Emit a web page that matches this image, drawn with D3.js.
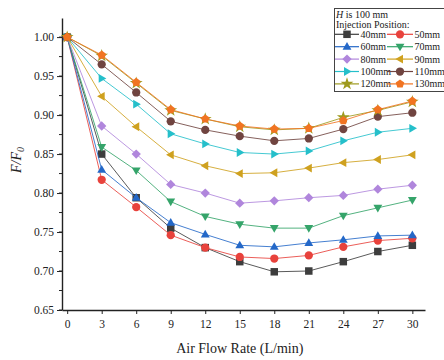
<!DOCTYPE html>
<html>
<head>
<meta charset="utf-8">
<script src="https://cdn.jsdelivr.net/npm/d3@7"></script>
<style>
body{margin:0;background:#fff;}
svg{display:block;font-family:"Liberation Serif","DejaVu Serif",serif;}
</style>
</head>
<body>
<div id="chart"></div>
<script>
var width = 444, height = 360;
var margin = {top: 18, right: 19, bottom: 50, left: 62};

// air flow rate (L/min)
var flow = [0, 3, 6, 9, 12, 15, 18, 21, 24, 27, 30];
var xTicks = [0, 3, 6, 9, 12, 15, 18, 21, 24, 27, 30];
var yTicks = [0.65, 0.70, 0.75, 0.80, 0.85, 0.90, 0.95, 1.00];

var positions = ["40mm","50mm","60mm","70mm","80mm","90mm","100mm","110mm","120mm","130mm"];
var colors = ["#3d3d3d","#e8423c","#2468c8","#35a46a","#b086dc","#cfa11f","#25bfca","#704440","#9e9a1e","#f17422"];
var shapes = ["square","circle","triUp","triDown","diamond","triLeft","triRight","circle","star","pentagon"];

var v40  = [1.000, 0.850, 0.794, 0.755, 0.730, 0.712, 0.699, 0.700, 0.712, 0.725, 0.733];
var v50  = [1.000, 0.817, 0.782, 0.746, 0.730, 0.718, 0.716, 0.720, 0.731, 0.739, 0.742];
var v60  = [1.000, 0.830, 0.794, 0.762, 0.747, 0.733, 0.731, 0.736, 0.740, 0.745, 0.746];
var v70  = [1.000, 0.859, 0.829, 0.789, 0.770, 0.760, 0.755, 0.755, 0.771, 0.781, 0.791];
var v80  = [1.000, 0.886, 0.850, 0.811, 0.800, 0.787, 0.790, 0.794, 0.797, 0.805, 0.810];
var v90  = [1.000, 0.924, 0.885, 0.849, 0.835, 0.825, 0.826, 0.832, 0.839, 0.843, 0.849];
var v100 = [1.000, 0.947, 0.914, 0.876, 0.863, 0.852, 0.850, 0.854, 0.867, 0.878, 0.883];
var v110 = [1.000, 0.965, 0.929, 0.892, 0.881, 0.873, 0.867, 0.870, 0.882, 0.898, 0.903];
var v120 = [1.000, 0.976, 0.941, 0.906, 0.895, 0.885, 0.881, 0.883, 0.897, 0.906, 0.917];
var v130 = [1.000, 0.977, 0.942, 0.907, 0.895, 0.886, 0.882, 0.883, 0.893, 0.907, 0.918];

var values = [v40, v50, v60, v70, v80, v90, v100, v110, v120, v130];

var svg = d3.select("#chart").append("svg")
  .attr("width", width).attr("height", height);

var x = d3.scaleLinear().domain([-0.45, 31.1]).range([margin.left, width - margin.right]);
var y = d3.scaleLinear().domain([0.65, 1.0245]).range([height - margin.bottom, margin.top]);

// symbol paths
function symbolPath(shape, s) {
  var p;
  if (shape == "square") {
    p = d3.symbol(d3.symbolSquare, s * s * 1.0)();
  } else if (shape == "circle") {
    p = d3.symbol(d3.symbolCircle, Math.PI * Math.pow(s * 0.55, 2))();
  } else if (shape == "diamond") {
    var r = s * 0.62;
    p = "M0," + (-r) + "L" + r + ",0L0," + r + "L" + (-r) + ",0Z";
  } else if (shape == "star") {
    p = d3.symbol(d3.symbolStar, s * s * 0.9)();
  } else if (shape == "pentagon") {
    var r2 = s * 0.6, pts = [];
    for (var k = 0; k < 5; k++) {
      var a = -Math.PI / 2 + k * 2 * Math.PI / 5;
      pts.push([r2 * Math.cos(a), r2 * Math.sin(a)]);
    }
    p = "M" + pts.map(function(q){ return q[0].toFixed(2) + "," + q[1].toFixed(2); }).join("L") + "Z";
  } else {
    var t = s * 0.62;
    var tri = [[0, -t], [t * 0.95, t * 0.65], [-t * 0.95, t * 0.65]];
    var rot = {triUp: 0, triDown: 180, triLeft: -90, triRight: 90}[shape];
    var rad = rot * Math.PI / 180;
    var rp = tri.map(function(q){
      return [q[0] * Math.cos(rad) - q[1] * Math.sin(rad), q[0] * Math.sin(rad) + q[1] * Math.cos(rad)];
    });
    p = "M" + rp.map(function(q){ return q[0].toFixed(2) + "," + q[1].toFixed(2); }).join("L") + "Z";
  }
  return p;
}

// axes
var yMinor = d3.range(0.65, 1.0245, 0.025);
svg.append("g")
  .attr("transform", "translate(" + margin.left + ",0)")
  .selectAll("line").data(yMinor).join("line")
  .attr("x1", -3).attr("x2", 0)
  .attr("y1", function(d){ return y(d); }).attr("y2", function(d){ return y(d); })
  .attr("stroke", "#222").attr("stroke-width", 1);

var yAxis = svg.append("g")
  .attr("transform", "translate(" + margin.left + ",0)")
  .call(d3.axisLeft(y).tickValues(yTicks).tickFormat(d3.format(".2f")).tickSize(5).tickPadding(3).tickSizeOuter(0));
yAxis.select(".domain").attr("stroke", "#222").attr("stroke-width", 1.4);
yAxis.selectAll(".tick line").attr("stroke", "#222");
yAxis.selectAll("text").attr("font-family", "Liberation Serif").attr("font-size", 11.5).attr("fill", "#222");

var xAxis = svg.append("g")
  .attr("transform", "translate(0," + (height - margin.bottom) + ")")
  .call(d3.axisBottom(x).tickValues(xTicks).tickSize(4).tickPadding(6).tickSizeOuter(0));
xAxis.select(".domain").attr("stroke", "#222").attr("stroke-width", 1.4);
xAxis.selectAll(".tick line").attr("stroke", "#222");
xAxis.selectAll("text").attr("font-family", "Liberation Serif").attr("font-size", 11.5).attr("fill", "#222");

svg.append("text")
  .attr("x", x(15)).attr("y", 353)
  .attr("text-anchor", "middle")
  .attr("font-size", 14).attr("fill", "#222")
  .text("Air Flow Rate (L/min)");

var yl = svg.append("text")
  .attr("transform", "translate(21," + ((margin.top + height - margin.bottom) / 2 - 4) + ") rotate(-90)")
  .attr("text-anchor", "middle")
  .attr("font-size", 14).attr("font-style", "italic").attr("fill", "#222");
yl.append("tspan").text("F/F");
yl.append("tspan").attr("font-size", 10).attr("dy", 3).text("0");

// lines and markers
var line = d3.line()
  .x(function(d, i){ return x(flow[i]); })
  .y(function(d){ return y(d); });

for (var s = 0; s < values.length; s++) {
  var g = svg.append("g");
  g.append("path")
    .attr("d", line(values[s]))
    .attr("fill", "none")
    .attr("stroke", colors[s])
    .attr("stroke-width", 1)
    .attr("stroke-opacity", 0.85);
  g.selectAll("path.m").data(values[s]).join("path")
    .attr("class", "m")
    .attr("transform", function(d, i){ return "translate(" + x(flow[i]) + "," + y(d) + ")"; })
    .attr("d", symbolPath(shapes[s], 7.5))
    .attr("fill", colors[s]);
}

// legend
var lg = svg.append("g");
lg.append("rect")
  .attr("x", 334.5).attr("y", 8.5).attr("width", 115).attr("height", 83)
  .attr("fill", "#fff").attr("stroke", "#444").attr("stroke-width", 1);
var t1 = lg.append("text").attr("x", 336).attr("y", 18).attr("font-size", 10).attr("fill", "#222");
t1.append("tspan").attr("font-style", "italic").text("H");
t1.append("tspan").text(" is 100 mm");
lg.append("text").attr("x", 336).attr("y", 28).attr("font-size", 10).attr("fill", "#222")
  .text("Injection Position:");

var cols = [[335, 359], [387, 413]];
for (var j = 0; j < positions.length; j++) {
  var c = cols[j % 2];
  var ry = 34.3 + Math.floor(j / 2) * 12.4;
  lg.append("line")
    .attr("x1", c[0]).attr("x2", c[1]).attr("y1", ry).attr("y2", ry)
    .attr("stroke", colors[j]).attr("stroke-width", 1.2);
  lg.append("path")
    .attr("transform", "translate(" + ((c[0] + c[1]) / 2) + "," + ry + ")")
    .attr("d", symbolPath(shapes[j], 7.5))
    .attr("fill", colors[j]);
  lg.append("text")
    .attr("x", c[1] + 1.5).attr("y", ry + 3.5)
    .attr("font-size", 10).attr("fill", "#222")
    .text(positions[j]);
}
</script>
</body>
</html>
